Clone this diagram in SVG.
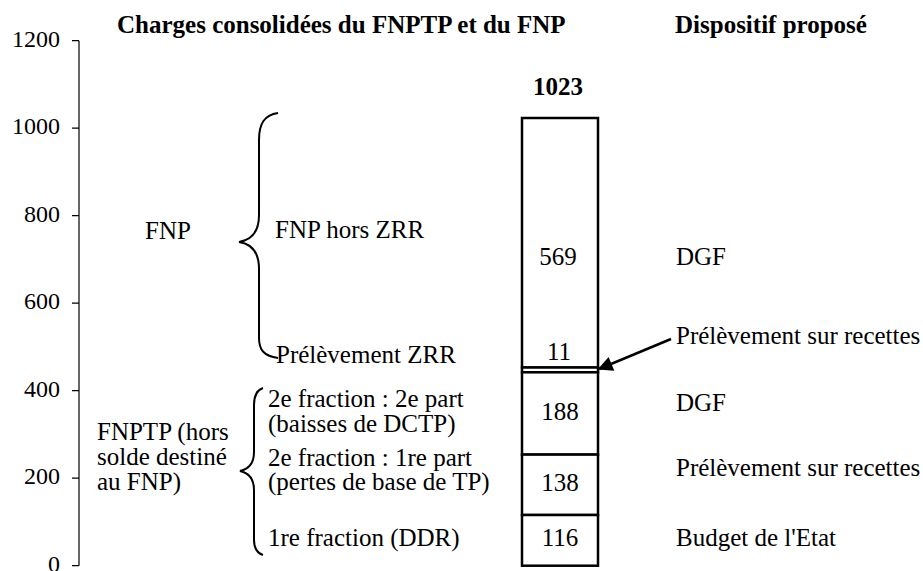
<svg xmlns="http://www.w3.org/2000/svg" width="923" height="571" viewBox="0 0 923 571">
<defs>
<style>
text{font-family:"Liberation Serif","Times New Roman",serif;font-size:25px;fill:#000}
.n{font-size:24px}
.b{font-weight:bold}
.m{text-anchor:middle}
.e{text-anchor:end}
.ax{stroke:#000;stroke-width:1.2;fill:none}
.seg{fill:#fff;stroke:#000;stroke-width:2.5}
.br{fill:none;stroke:#000;stroke-width:2}
</style>
<marker id="ah" viewBox="0 0 10 10" refX="9" refY="5" markerWidth="7" markerHeight="6" markerUnits="strokeWidth" orient="auto">
<path d="M0,0 L10,5 L0,10 z" fill="#000"/>
</marker>
</defs>
<rect width="923" height="571" fill="#fff"/>
<g id="axis">
<path class="ax" d="M79,40.7 V565.7 M72,40.7 H79 M72,128.2 H79 M72,215.7 H79 M72,303.2 H79 M72,390.7 H79 M72,478.2 H79 M72,565.7 H79"/>
<text class="e n" x="60" y="46.5">1200</text>
<text class="e n" x="60" y="134">1000</text>
<text class="e n" x="60" y="221.5">800</text>
<text class="e n" x="60" y="309">600</text>
<text class="e n" x="60" y="396.5">400</text>
<text class="e n" x="60" y="484">200</text>
<text class="e n" x="60" y="571.5">0</text>
</g>
<g id="titles">
<text class="b" x="117" y="33">Charges consolidées du FNPTP et du FNP</text>
<text class="b" x="675" y="33">Dispositif proposé</text>
</g>
<g id="bar">
<rect class="seg" x="522" y="118" width="76" height="249.5"/>
<rect class="seg" x="522" y="367.5" width="76" height="4.8"/>
<rect class="seg" x="522" y="372.3" width="76" height="82.3"/>
<rect class="seg" x="522" y="454.6" width="76" height="60.4"/>
<rect class="seg" x="522" y="515" width="76" height="50.7"/>
<text class="b m" x="558" y="95">1023</text>
<text class="m" x="558" y="265">569</text>
<text class="m" x="559" y="360">11</text>
<text class="m" x="560" y="420">188</text>
<text class="m" x="560" y="491">138</text>
<text class="m" x="560" y="546">116</text>
</g>
<g id="brace-fnp">
<path class="br" d="M278,113 C264,115 259,124 259,140 V215 C259,232 252,240 239,242 C252,244 259,252 259,269 V338 C259,350 264,356 278,358"/>
<text x="145" y="239">FNP</text>
<text x="275" y="238">FNP hors ZRR</text>
<text x="276" y="363">Prélèvement ZRR</text>
</g>
<g id="brace-fnptp">
<path class="br" d="M263,388 C257,390 254,395 254,405 V452 C254,463 249,469 240,471 C249,473 254,479 254,490 V540 C254,549 257,553 263,555"/>
<text x="97" y="440">FNPTP (hors</text>
<text x="97" y="465">solde destiné</text>
<text x="97" y="490">au FNP)</text>
<text x="268" y="407">2e fraction : 2e part</text>
<text x="268" y="432">(baisses de DCTP)</text>
<text x="268" y="466">2e fraction : 1re part</text>
<text x="268" y="490">(pertes de base de TP)</text>
<text x="268" y="546">1re fraction (DDR)</text>
</g>
<g id="right-labels">
<text x="676" y="265">DGF</text>
<text x="676" y="344">Prélèvement sur recettes</text>
<text x="676" y="411">DGF</text>
<text x="676" y="476">Prélèvement sur recettes</text>
<text x="676" y="546">Budget de l'Etat</text>
</g>
<g id="connectors">
<path d="M671,339 L599,369" stroke="#000" stroke-width="2.5" fill="none" marker-end="url(#ah)"/>
</g>
</svg>
